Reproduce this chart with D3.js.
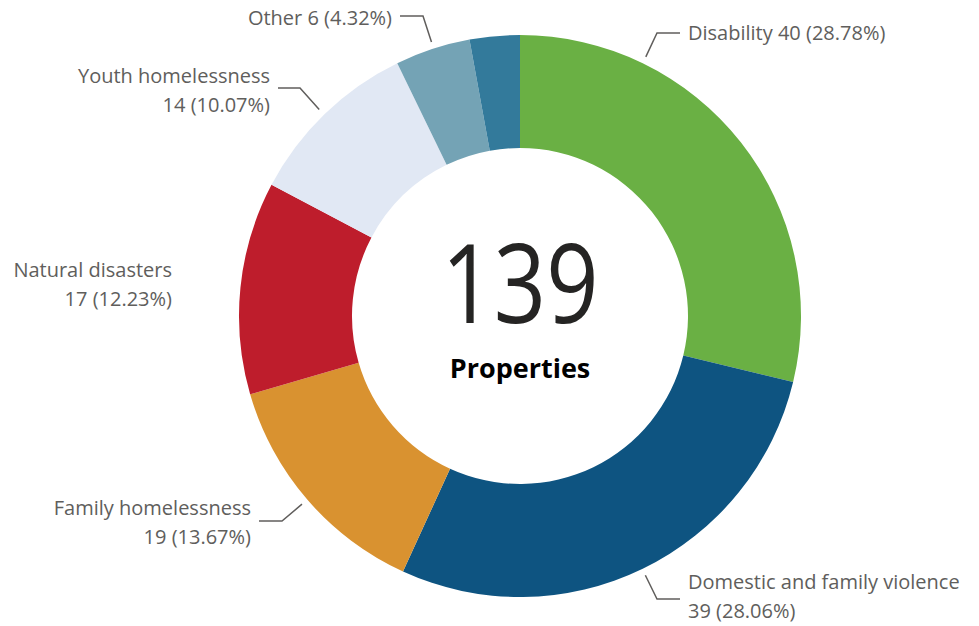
<!DOCTYPE html>
<html lang="en">
<head>
<meta charset="utf-8">
<title>Properties by category</title>
<script src="https://cdn.jsdelivr.net/npm/d3@7"></script>
<style>
  body { margin: 0; background: #fff; }
  text { font-family: "Open Sans", "Noto Sans", sans-serif; }
</style>
</head>
<body>
<div id="chart"></div>
<script>
// data
const categories = ["Disability", "Domestic and family violence", "Family homelessness",
                    "Natural disasters", "Youth homelessness", "Other", ""];
const counts = [40, 39, 19, 17, 14, 6, 4];
const colours = ["#6ab044", "#0e5481", "#d99230", "#be1d2c", "#e1e8f4", "#74a3b5", "#337a9b"];
const centreLabel = "Properties";

// label layout: angle (deg from top) of the leader start, elbow and text placement
// two-line labels split after the category name
const labelLayout = [
  { ang: 25.9, elbow: [657, 33], end: 680, side: "right", lines: 1, dy: 1 },
  { ang: 154.2, elbow: [657, 599], end: 680, side: "right", lines: 2, dy: -16 },
  { ang: 229.2, elbow: [282, 521], end: 259, side: "left", lines: 2, dy: -12 },
  { ang: null, x: 172, y: 277, side: "left", lines: 2 },
  { ang: 315.8, elbow: [300, 88], end: 278, side: "left", lines: 2, dy: -11 },
  { ang: 342.1, elbow: [423, 16], end: 400, side: "left", lines: 1, dy: 3 },
  null
];

const width = 979, height = 626;
const cx = 520, cy = 316;
const outerR = 281, innerR = 168;
const total = d3.sum(counts);

const svg = d3.select("#chart").append("svg")
  .attr("width", width)
  .attr("height", height);

const g = svg.append("g").attr("transform", `translate(${cx},${cy})`);

const rows = categories.map((c, i) => ({ name: c, value: counts[i], i: i }));

const pie = d3.pie().sort(null).value(d => d.value);
const arc = d3.arc().innerRadius(innerR).outerRadius(outerR);

g.selectAll("path.slice")
  .data(pie(rows))
  .join("path")
  .attr("class", "slice")
  .attr("d", arc)
  .attr("fill", d => colours[d.data.i]);

// centre text
g.append("text")
  .attr("text-anchor", "middle")
  .attr("y", 7)
  .attr("font-size", 110)
  .attr("textLength", 157)
  .attr("lengthAdjust", "spacingAndGlyphs")
  .attr("fill", "#252423")
  .text(total);

g.append("text")
  .attr("text-anchor", "middle")
  .attr("y", 62)
  .attr("font-size", 27)
  .attr("font-weight", 700)
  .attr("fill", "#000")
  .text(centreLabel);

// labels and leader lines
const pct = v => (v / total * 100).toFixed(2) + "%";
const lab = svg.append("g");

rows.forEach((d, i) => {
  const L = labelLayout[i];
  if (!L) return;
  const first = d.name;
  const second = d.value + " (" + pct(d.value) + ")";
  let tx, ty;
  if (L.ang !== null) {
    const a = L.ang * Math.PI / 180;
    const r0 = outerR + 7;
    const sx = cx + r0 * Math.sin(a), sy = cy - r0 * Math.cos(a);
    lab.append("polyline")
      .attr("points", [[sx, sy], L.elbow, [L.end, L.elbow[1]]].map(p => p.join(",")).join(" "))
      .attr("fill", "none")
      .attr("stroke", "#605e5c")
      .attr("stroke-width", 1.5);
    tx = L.side === "right" ? L.end + 8 : L.end - 8;
    ty = L.elbow[1] + 6 + (L.dy || 0);
  } else {
    tx = L.x; ty = L.y;
  }
  const t = lab.append("text")
    .attr("x", tx)
    .attr("y", ty)
    .attr("font-size", 20)
    .attr("fill", "#605e5c")
    .attr("text-anchor", L.side === "right" ? "start" : "end");
  if (L.lines === 1) {
    t.text(first + " " + second);
  } else {
    t.append("tspan").attr("x", tx).text(first);
    t.append("tspan").attr("x", tx).attr("dy", 29).text(second);
  }
});
</script>
</body>
</html>
